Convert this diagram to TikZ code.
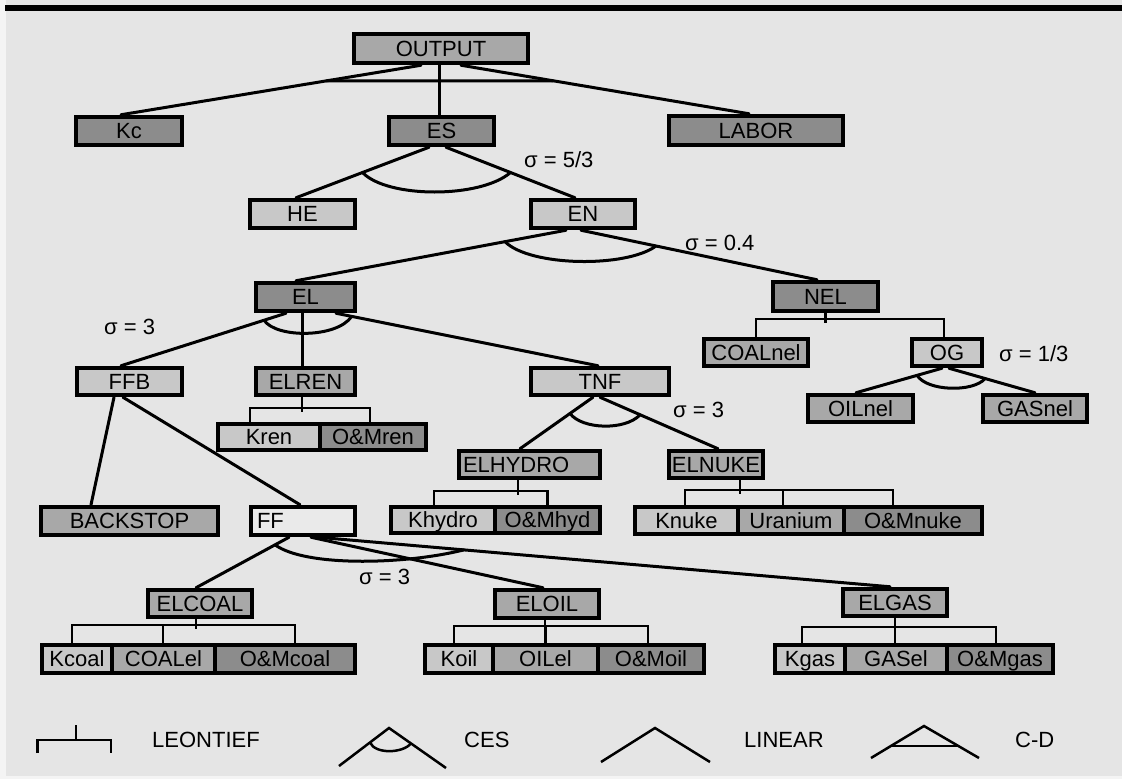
\documentclass[tikz,border=0pt]{standalone}
\usepackage{fontspec}
\setmainfont{Liberation Sans}
\usetikzlibrary{calc}
\definecolor{bg}{RGB}{229,229,229}
\definecolor{lgt}{RGB}{200,200,200}
\definecolor{med}{RGB}{168,168,168}
\definecolor{drk}{RGB}{140,140,140}
\definecolor{vlt}{RGB}{234,234,234}
\definecolor{marg}{RGB}{244,244,244}
\newcommand{\bx}[7]{\node[box,#6,minimum width={(#4-#2)*1pt},minimum height={(#5-#3)*1pt}] (#1) at ({(#2+#4)/2},{(#3+#5)/2}) {#7};}
\begin{document}
\begin{tikzpicture}[x=1pt,y=-1pt,
  box/.style={draw=black,line width=4.5pt,inner sep=0pt,text height=15.5pt,text depth=0pt,font=\fontsize{22}{26}\selectfont},
  conn/.style={line width=3pt,line cap=round},
  leon/.style={line width=2.5pt},
  lbl/.style={font=\fontsize{22}{26}\selectfont,inner sep=0pt,anchor=west}]
\fill[marg] (0,0) rectangle (1122,779);
\fill[bg] (6,0) rectangle (1122,776);
\fill[black] (5,5) rectangle (1122,11);
\useasboundingbox (0,0) rectangle (1122,779);
% nodes
\bx{OUTPUT}{354}{34}{528}{63}{fill=med}{OUTPUT}
\bx{Kc}{76}{117}{182}{145}{fill=drk}{Kc}
\bx{ES}{389}{117}{494}{145}{fill=drk}{ES}
\bx{LABOR}{669}{116}{843}{145}{fill=drk}{LABOR}
\bx{HE}{250}{200}{355}{228}{fill=lgt}{HE}
\bx{EN}{531}{200}{635}{228}{fill=lgt}{EN}
\bx{EL}{256}{283}{355}{311}{fill=drk}{EL}
\bx{NEL}{773}{282}{878}{311}{fill=drk}{NEL}
\bx{FFB}{77}{368}{182}{395}{fill=lgt}{FFB}
\bx{ELREN}{256}{368}{355}{395}{fill=med}{ELREN}
\bx{TNF}{531}{368}{669}{395}{fill=lgt}{TNF}
\bx{COALnel}{704}{339}{808}{366}{fill=med}{COALnel}
\bx{OG}{912}{339}{982}{366}{fill=lgt}{OG}
\bx{OILnel}{808}{395}{913}{422}{fill=med}{OILnel}
\bx{GASnel}{983}{395}{1087}{422}{fill=med}{GASnel}
\bx{Kren}{218}{424}{320}{450}{fill=lgt}{Kren}
\bx{OMren}{320}{424}{426}{450}{fill=drk}{O\&Mren}
\bx{ELHYDRO}{459}{451}{600}{478}{fill=med,text width=133pt,align=left}{ELHYDRO}
\bx{ELNUKE}{669}{451}{763}{478}{fill=med}{ELNUKE}
\bx{BACKSTOP}{41}{507}{218}{535}{fill=med}{BACKSTOP}
\bx{FF}{251}{507}{355}{535}{fill=vlt,text width=92pt,align=left}{FF}
\bx{Khydro}{391}{507}{495}{533}{fill=lgt}{Khydro}
\bx{OMhyd}{495}{507}{600}{533}{fill=drk}{O\&Mhyd}
\bx{Knuke}{635}{507}{738}{534}{fill=lgt}{Knuke}
\bx{Uranium}{738}{507}{844}{534}{fill=med}{Uranium}
\bx{OMnuke}{844}{507}{982}{534}{fill=drk}{O\&Mnuke}
\bx{ELCOAL}{148}{590}{252}{617}{fill=med}{ELCOAL}
\bx{ELOIL}{495}{590}{599}{618}{fill=med}{ELOIL}
\bx{ELGAS}{843}{589}{947}{616}{fill=med}{ELGAS}
\bx{Kcoal}{42}{645}{112}{673}{fill=lgt}{Kcoal}
\bx{COALel}{112}{645}{215}{673}{fill=med}{COALel}
\bx{OMcoal}{215}{645}{355}{673}{fill=drk}{O\&Mcoal}
\bx{Koil}{425}{645}{493}{673}{fill=lgt}{Koil}
\bx{OILel}{493}{645}{598}{673}{fill=med}{OILel}
\bx{OMoil}{598}{645}{704}{673}{fill=drk}{O\&Moil}
\bx{Kgas}{775}{645}{845}{673}{fill=lgt}{Kgas}
\bx{GASel}{845}{645}{947}{673}{fill=med}{GASel}
\bx{OMgas}{947}{645}{1053}{673}{fill=drk}{O\&Mgas}
% OUTPUT (C-D)
\draw[conn] ([xshift=-20pt]OUTPUT.south) -- ([xshift=-8pt]Kc.north);
\draw[conn] ([xshift=-2pt]OUTPUT.south) -- ([xshift=-2.5pt]ES.north);
\draw[conn] ([xshift=20pt]OUTPUT.south) -- ([xshift=-7pt]LABOR.north);
\draw[conn] ($([xshift=-20pt]OUTPUT.south)!0.315!([xshift=-8pt]Kc.north)$) -- ($([xshift=20pt]OUTPUT.south)!0.32!([xshift=-7pt]LABOR.north)$);
% ES (CES)
\draw[conn] ([xshift=-12.5pt]ES.south) -- ([xshift=-6.5pt]HE.north);
\draw[conn] ([xshift=4.5pt]ES.south) -- ([xshift=-8pt]EN.north);
\draw[conn] ($([xshift=-12.5pt]ES.south)!0.5!([xshift=-6.5pt]HE.north)$) .. controls +(25,26) and +(-30,26) .. ($([xshift=4.5pt]ES.south)!0.5!([xshift=-8pt]EN.north)$);
% EN (CES)
\draw[conn] ([xshift=-17pt]EN.south) -- ([xshift=-9.5pt]EL.north);
\draw[conn] ([xshift=-2pt]EN.south) -- ([xshift=-8.5pt]NEL.north);
\draw[conn] ($([xshift=-17pt]EN.south)!0.226!([xshift=-9.5pt]EL.north)$) .. controls +(25,25) and +(-30,22) .. ($([xshift=-2pt]EN.south)!0.318!([xshift=-8.5pt]NEL.north)$);
% EL (CES)
\draw[conn] ([xshift=-19.5pt]EL.south) -- ([xshift=-8.5pt]FFB.north);
\draw[conn] ([xshift=-3.5pt]EL.south) -- ([xshift=-3.5pt]ELREN.north);
\draw[conn] ([xshift=30.5pt]EL.south) -- ([xshift=-2pt]TNF.north);
\draw[conn] ($([xshift=-19.5pt]EL.south)!0.133!([xshift=-8.5pt]FFB.north)$) .. controls +(12,18) and +(-15,22) .. ($([xshift=30.5pt]EL.south)!0.06!([xshift=-2pt]TNF.north)$);
% FFB (linear)
\draw[conn] ([xshift=-15.5pt]FFB.south) -- ([xshift=-38.5pt]BACKSTOP.north);
\draw[conn] ([xshift=-6.5pt]FFB.south) -- ([xshift=-3pt]FF.north);
% TNF (CES)
\draw[conn] ([xshift=-7pt]TNF.south) -- ([xshift=-9.5pt]ELHYDRO.north);
\draw[conn] (TNF.south) -- ([xshift=2pt]ELNUKE.north);
\draw[conn] ($([xshift=-7pt]TNF.south)!0.315!([xshift=-9.5pt]ELHYDRO.north)$) .. controls +(12,16) and +(-15,16) .. ($(TNF.south)!0.34!([xshift=2pt]ELNUKE.north)$);
% OG (CES)
\draw[conn] ([xshift=-5pt]OG.south) -- ([xshift=-4.5pt]OILnel.north);
\draw[conn] ([xshift=2pt]OG.south) -- (GASnel.north);
\draw[conn] ($([xshift=-5pt]OG.south)!0.29!([xshift=-4.5pt]OILnel.north)$) .. controls +(10,16) and +(-12,14) .. ($([xshift=2pt]OG.south)!0.42!(GASnel.north)$);
% FF (CES)
\draw[conn] ([xshift=-14pt]FF.south) -- ([xshift=-4pt]ELCOAL.north);
\draw[conn] ([xshift=8pt]FF.south) -- ([xshift=-4pt]ELOIL.north);
\draw[conn] ([xshift=15pt]FF.south) -- ([xshift=-5pt]ELGAS.north);
\draw[conn] ($([xshift=-14pt]FF.south)!0.15!([xshift=-4pt]ELCOAL.north)$) .. controls +(30,22) and +(-60,15) .. ($([xshift=15pt]FF.south)!0.255!([xshift=-5pt]ELGAS.north)$);
% Leontief brackets
\draw[leon] (NEL.south) -- ++(0,10);
\draw[leon] (COALnel.north) -- ++(0,-18) -| ([xshift=-3pt]OG.north);
\draw[leon] ([xshift=-3.5pt]ELREN.south) -- ++(0,15);
\draw[leon] ([xshift=-19pt]Kren.north) -- ++(0,-14) -| ([xshift=-3pt]OMren.north);
\draw[leon] ([xshift=-11.5pt]ELHYDRO.south) -- ++(0,15);
\draw[leon] ([xshift=-9pt]Khydro.north) -- ++(0,-14) -| (OMhyd.north);
\draw[leon] ([xshift=24pt]ELNUKE.south) -- ++(0,14);
\draw[leon] ([xshift=-1.5pt]Knuke.north) -- ++(0,-15) -| ([xshift=-20pt]OMnuke.north);
\draw[leon] ([xshift=-8pt]Uranium.north) -- ++(0,-15);
\draw[leon] ([xshift=-4pt]ELCOAL.south) -- ++(0,10);
\draw[leon] ([xshift=-5pt]Kcoal.north) -- ++(0,-18) -| ([xshift=10pt]OMcoal.north);
\draw[leon] ([xshift=-0.5pt]COALel.north) -- ++(0,-18);
\draw[leon] ([xshift=-2pt]ELOIL.south) -- ++(0,10);
\draw[leon] ([xshift=-5pt]Koil.north) -- ++(0,-17) -| ([xshift=-3pt]OMoil.north);
\draw[leon] (OILel.north) -- ++(0,-17);
\draw[leon] (ELGAS.south) -- ++(0,13);
\draw[leon] ([xshift=-8pt]Kgas.north) -- ++(0,-16) -| ([xshift=-4pt]OMgas.north);
\draw[leon] ([xshift=-1pt]GASel.north) -- ++(0,-16);
% sigma labels
\node[lbl] (s1) at (524,160) {σ = 5/3};
\node[lbl] (s2) at (685,243) {σ = 0.4};
\node[lbl] (s3) at (104,327) {σ = 3};
\node[lbl] (s4) at (999,354) {σ = 1/3};
\node[lbl] (s5) at (673,410) {σ = 3};
\node[lbl] (s6) at (359,577) {σ = 3};
% legend
\draw[leon] (37.5,753) -- (37.5,740) -- (111,740) -- (111,753);
\draw[leon] (76,740) -- (76,725);
\node[lbl] (lgL) at (152,740) {LEONTIEF};
\draw[leon] (339,766) -- (389,728) -- (446,768);
\draw[leon] (370,742.4) .. controls +(5,12) and +(-8,10) .. (411,743.4);
\node[lbl] (lgC) at (464,740) {CES};
\draw[leon] (601,762) -- (655,728) -- (710,762);
\node[lbl] (lgLin) at (744,740) {LINEAR};
\draw[leon] (871,758) -- (924,726) -- (979,758);
\draw[leon] (891,746) -- (958,746);
\node[lbl] (lgCD) at (1015,740) {C-D};
\end{tikzpicture}
\end{document}
